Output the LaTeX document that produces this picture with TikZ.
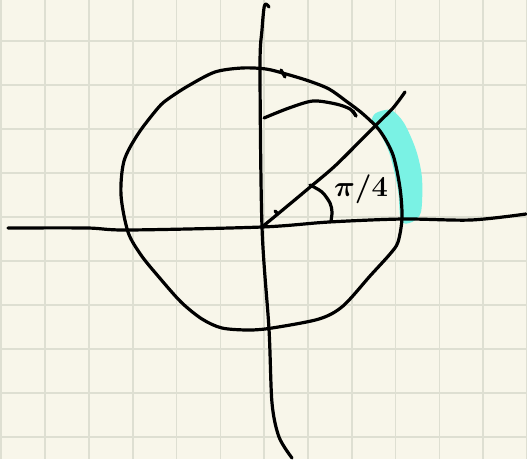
\RequirePackage{fix-cm}
\documentclass[tikz,border=0pt]{standalone}
\usetikzlibrary{calc}
\usepackage{xcolor}
\definecolor{paper}{RGB}{248,246,234}
\definecolor{gridline}{RGB}{222,223,210}
\definecolor{marker}{RGB}{122,242,228}

\begin{document}
\begin{tikzpicture}[
  x=1pt, y=-1pt,
  pen/.style={black, line width=3.2pt, line cap=round, line join=round},
  gridpen/.style={gridline, line width=1.6pt},
  highlight/.style={fill=marker, draw=none},
]
  % Paper and grid
  \fill[paper] (0,0) rectangle (527,459);
  \useasboundingbox (0,0) rectangle (527,459);
  \foreach \i in {0,...,12}
    \draw[gridpen] ({1.3+43.8*\i},0) -- ({1.3+43.8*\i},459);
  \foreach \j in {1,...,10}
    \draw[gridpen] (0,{-3+44*\j}) -- (527,{-3+44*\j});

  % Highlighted arc
  \fill[highlight] plot[smooth cycle] coordinates {(376,113) (391,110) (404,123) (416,150) (422,178) (421,212) (412,222) (401,221) (398,190) (390,155) (380,133) (372,121)};

  % Axes
  \coordinate (O) at (262,227);
  \draw[pen] plot[smooth] coordinates {(8,228) (87,228) (128,230) (O) (329,222) (403,219) (471,220) (526,214)};
  \draw[pen] plot[smooth] coordinates {(269,7) (266,4) (264,8) (262,30) (260,67) (O) (269,329) (272,403) (279,437) (292,458)};

  % Circle
  \draw[pen] plot[smooth cycle] coordinates {(242,68) (266,69) (286,74) (309,81) (329,89) (346,101) (363,114) (380,131) (393,155) (400,188) (402,218) (398,242) (390,254) (370,276) (343,306) (319,319) (272,328) (249,330) (222,328) (202,319) (181,302) (158,276) (141,255) (128,232) (121,195) (124,161) (138,134) (158,108) (168,99) (188,86) (215,72)};

  % Radius and rotation
  \draw[pen] plot[smooth] coordinates {(O) (279,213) (309,188) (336,165) (373,128) (393,108) (405,92)};
  \draw[pen] plot[smooth] coordinates {(264,118) (289,108) (313,101) (336,104) (350,109) (356,116)};

  % Barbs
  \draw[pen] (281,70) -- (285,77);
  \draw[pen] (353,111) -- (356,116);
  \draw[pen] (275,211) -- (278,214);

  % Angle
  \draw[pen] plot[smooth] coordinates {(310,185) (322,192) (330,203) (332,212) (331,221)};
  \node[font=\fontsize{29}{29}\selectfont\boldmath] (angle) at (361,189) {$\pi/4$};
\end{tikzpicture}
\end{document}
